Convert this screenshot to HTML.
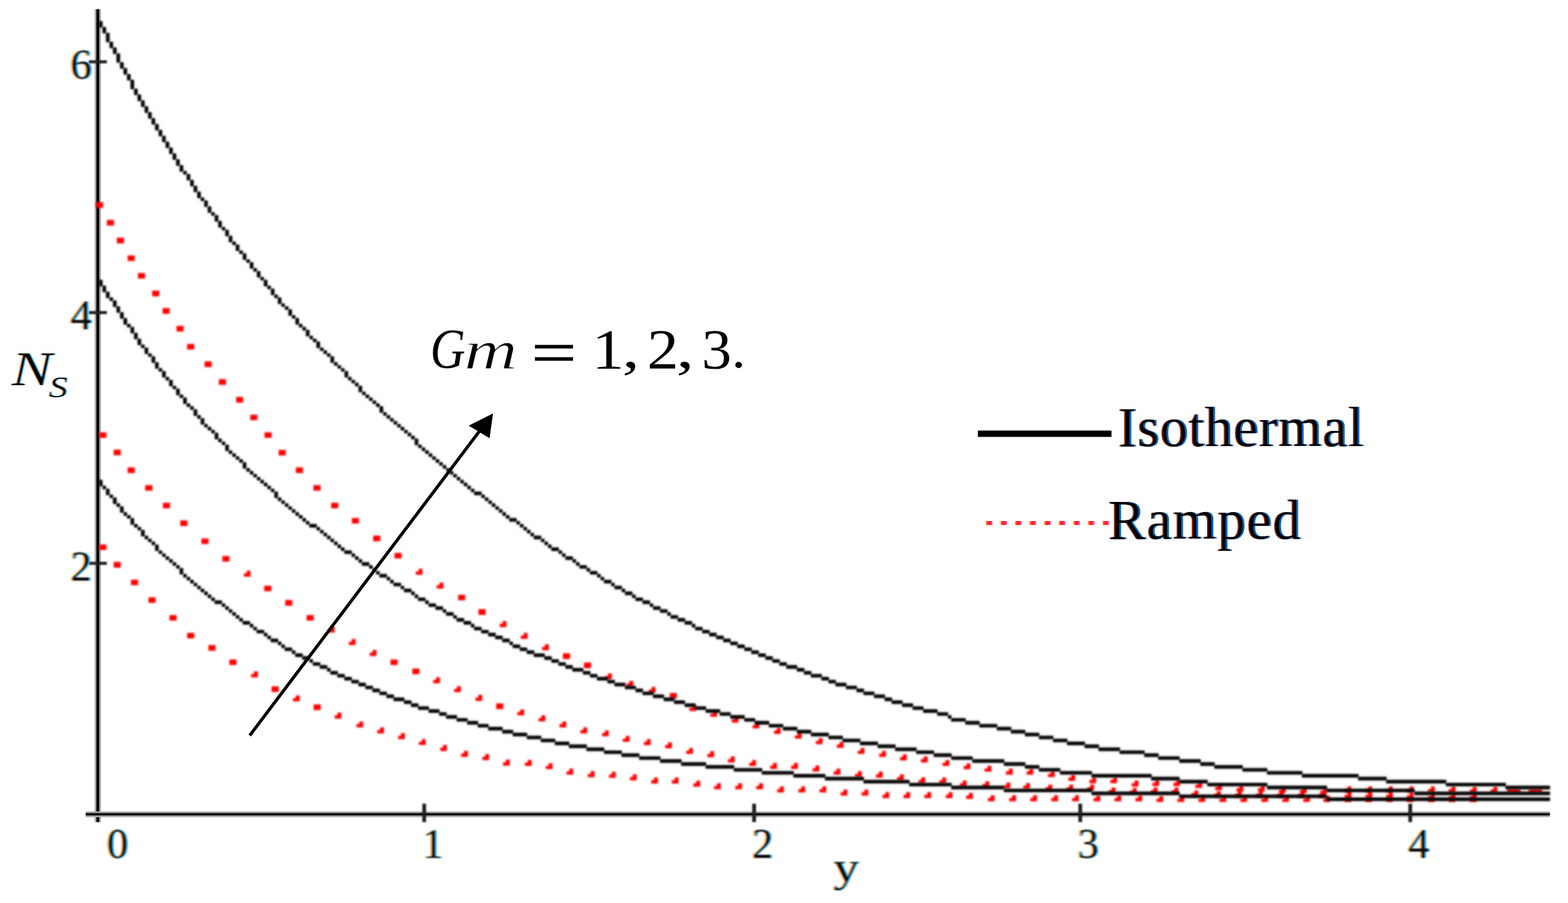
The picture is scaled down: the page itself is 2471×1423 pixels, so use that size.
<!DOCTYPE html>
<html lang="en">
<head>
<meta charset="utf-8">
<title>Entropy generation Ns versus y for Gm = 1, 2, 3</title>
<style>
html,body{margin:0;padding:0;background:#fff;}
body{width:2471px;height:1423px;overflow:hidden;}
svg{display:block;}
text{font-family:"Liberation Serif","DejaVu Serif",serif;fill:#000;}
.tick{font-size:66.7px;}
.leg{font-size:88px;}
.it{font-style:italic;}
</style>
</head>
<body>
<svg width="2471" height="1423" viewBox="0 0 2471 1423" role="img" aria-label="Entropy generation number Ns versus y for Gm = 1, 2, 3 with isothermal (solid) and ramped (dotted) wall temperature">
<defs>
<filter id="soft" x="0" y="0" width="2471" height="1423" filterUnits="userSpaceOnUse"><feGaussianBlur stdDeviation="1.4"/></filter>
<filter id="soft2" x="0" y="0" width="2471" height="1423" filterUnits="userSpaceOnUse"><feGaussianBlur stdDeviation="0.9"/></filter>
<filter id="ct" x="0" y="0" width="2471" height="1423" filterUnits="userSpaceOnUse" color-interpolation-filters="sRGB">
<feMorphology in="SourceAlpha" operator="erode" radius="0.8 0.3" result="core"/>
<feOffset in="SourceAlpha" dx="-1.8" result="l"/>
<feFlood flood-color="#f2a245"/><feComposite in2="l" operator="in" result="lo"/>
<feOffset in="SourceAlpha" dx="1.8" result="r"/>
<feFlood flood-color="#23a0ee"/><feComposite in2="r" operator="in" result="rb"/>
<feFlood flood-color="#0a0a0a"/><feComposite in2="core" operator="in" result="k"/>
<feMerge><feMergeNode in="lo"/><feMergeNode in="rb"/><feMergeNode in="k"/></feMerge>
<feGaussianBlur stdDeviation="1.0"/>
</filter>
<filter id="ct2" x="0" y="500" width="200" height="200" filterUnits="userSpaceOnUse" color-interpolation-filters="sRGB">
<feMorphology in="SourceAlpha" operator="erode" radius="0.6 0.4" result="core"/>
<feOffset in="SourceAlpha" dx="-0.9" result="l"/>
<feFlood flood-color="#e8a055"/><feComposite in2="l" operator="in" result="lo"/>
<feOffset in="SourceAlpha" dx="0.9" result="r"/>
<feFlood flood-color="#3a9fe0"/><feComposite in2="r" operator="in" result="rb"/>
<feFlood flood-color="#000"/><feComposite in2="core" operator="in" result="k"/>
<feMerge><feMergeNode in="lo"/><feMergeNode in="rb"/><feMergeNode in="k"/></feMerge>
<feGaussianBlur stdDeviation="0.5"/>
</filter>
<filter id="line" x="0" y="0" width="2471" height="1423" filterUnits="userSpaceOnUse">
<feGaussianBlur in="SourceGraphic" stdDeviation="1.9" result="h"/>
<feComponentTransfer in="h" result="h2"><feFuncA type="linear" slope="0.55"/></feComponentTransfer>
<feGaussianBlur in="SourceGraphic" stdDeviation="0.9" result="c"/>
<feMerge><feMergeNode in="h2"/><feMergeNode in="c"/></feMerge>
</filter>
<filter id="ct3" x="1700" y="600" width="520" height="300" filterUnits="userSpaceOnUse" color-interpolation-filters="sRGB">
<feMorphology in="SourceAlpha" operator="erode" radius="1 0.3" result="core"/>
<feOffset in="SourceAlpha" dx="-1.5" result="l"/>
<feFlood flood-color="#8a2a08"/><feComposite in2="l" operator="in" result="lo"/>
<feOffset in="SourceAlpha" dx="1.5" result="r"/>
<feFlood flood-color="#0a62c4"/><feComposite in2="r" operator="in" result="rb"/>
<feFlood flood-color="#000"/><feComposite in2="core" operator="in" result="k"/>
<feMerge><feMergeNode in="lo"/><feMergeNode in="rb"/><feMergeNode in="k"/></feMerge>
<feGaussianBlur stdDeviation="0.45"/>
</filter>
<linearGradient id="lgd" x1="0" y1="0" x2="1" y2="0">
<stop offset="0" stop-color="#fffbe0"/><stop offset="0.2" stop-color="#fff3c4"/><stop offset="0.24" stop-color="#ff6a45"/><stop offset="0.5" stop-color="#ff2a1c"/><stop offset="0.62" stop-color="#ff1216"/><stop offset="0.8" stop-color="#ff2f7a"/><stop offset="1" stop-color="#ff45a8"/>
</linearGradient>
</defs>
<rect width="2471" height="1423" fill="#fff"/>

<!-- axes -->
<g id="axes">
<rect x="149.2" y="14.5" width="9.8" height="1281" fill="#a6a6a6"/>
<rect x="151.9" y="14.5" width="4.4" height="1281" fill="#000"/>
<rect x="135" y="1278.7" width="2307.4" height="9.1" fill="#a6a6a6"/>
<rect x="135" y="1281.4" width="2307.4" height="3.6" fill="#000"/>
</g>

<!-- plot curves -->
<g id="ramped-curves" fill="#ff0000" filter="url(#soft)">
<path id="ramped-gm3" d="M151.4 318.6h11.2v8.8h-11.2zM168.4 346.6h11.2v8.8h-11.2zM184.1 374.6h11.2v8.8h-11.2zM201.1 402.4h11.2v8.8h-11.2zM217.4 430.2h11.2v8.8h-11.2zM239.8 458.1h11.2v8.8h-11.2zM256.2 485.6h11.2v8.8h-11.2zM278.2 513.6h11.2v8.8h-11.2zM294.9 542.0h11.2v8.8h-11.2zM322.4 569.6h11.2v8.8h-11.2zM344.8 597.6h11.2v8.8h-11.2zM372.1 625.6h11.2v8.8h-11.2zM394.4 653.4h11.2v8.8h-11.2zM416.9 681.2h11.2v8.8h-11.2zM439.1 709.0h11.2v8.8h-11.2zM466.2 736.6h11.2v8.8h-11.2zM494.0 764.4h11.2v8.8h-11.2zM521.9 792.2h11.2v8.8h-11.2zM554.4 816.3h11.2v8.8h-11.2zM588.1 844.1h11.2v8.8h-11.2zM621.7 871.3h11.2v8.8h-11.2zM659.7 896.3h6.1v9.4h-10.6v-5.2h4.5zM692.6 918.1h6.1v9.4h-10.6v-5.2h4.5zM721.9 937.3h11.2v8.8h-11.2zM754.0 960.1h11.2v8.8h-11.2zM792.0 978.8h6.1v9.4h-10.6v-5.2h4.5zM825.2 997.3h6.1v9.4h-10.6v-5.2h4.5zM858.8 1015.3h6.1v9.4h-10.6v-5.2h4.5zM887.1 1029.6h11.2v8.8h-11.2zM920.3 1044.1h11.2v8.8h-11.2zM958.1 1061.3h6.1v9.4h-10.6v-5.2h4.5zM991.8 1072.9h6.1v9.4h-10.6v-5.2h4.5zM1026.8 1082.6h6.1v9.4h-10.6v-5.2h4.5zM1055.6 1092.0h11.2v8.8h-11.2zM1090.9 1111.1h6.1v9.4h-10.6v-5.2h4.5zM1123.9 1120.2h6.1v9.4h-10.6v-5.2h4.5zM1157.6 1129.3h6.1v9.4h-10.6v-5.2h4.5zM1190.6 1138.3h6.1v9.4h-10.6v-5.2h4.5zM1224.2 1147.1h6.1v9.4h-10.6v-5.2h4.5zM1257.2 1154.7h6.1v9.4h-10.6v-5.2h4.5zM1290.2 1163.3h6.1v9.4h-10.6v-5.2h4.5zM1323.2 1169.1h6.1v9.4h-10.6v-5.2h4.5zM1356.2 1178.7h6.1v9.4h-10.6v-5.2h4.5zM1390.0 1183.3h6.1v9.4h-10.6v-5.2h4.5zM1422.8 1188.8h6.1v9.4h-10.6v-5.2h4.5zM1455.7 1192.1h6.1v9.4h-10.6v-5.2h4.5zM1489.9 1197.7h6.1v9.4h-10.6v-5.2h4.5zM1523.2 1202.9h6.1v9.4h-10.6v-5.2h4.5zM1556.2 1206.7h6.1v9.4h-10.6v-5.2h4.5zM1589.8 1211.3h6.1v9.4h-10.6v-5.2h4.5zM1622.2 1211.3h6.1v9.4h-10.6v-5.2h4.5zM1655.9 1215.2h6.1v9.4h-10.6v-5.2h4.5zM1688.2 1221.0h6.1v9.4h-10.6v-5.2h4.5zM1721.2 1224.9h6.1v9.4h-10.6v-5.2h4.5zM1754.2 1224.9h6.1v9.4h-10.6v-5.2h4.5zM1788.0 1230.0h6.1v9.4h-10.6v-5.2h4.5zM1820.6 1229.3h6.1v9.4h-10.6v-5.2h4.5zM1853.6 1229.3h6.1v9.4h-10.6v-5.2h4.5zM1888.2 1232.3h6.1v9.4h-10.6v-5.2h4.5zM1919.6 1235.9h6.1v9.4h-10.6v-5.2h4.5zM1953.2 1237.8h6.1v9.4h-10.6v-5.2h4.5zM1987.0 1237.8h6.1v9.4h-10.6v-5.2h4.5zM2020.0 1240.3h6.1v9.4h-10.6v-5.2h4.5zM2053.0 1240.3h6.1v9.4h-10.6v-5.2h4.5zM2085.2 1241.7h6.1v9.4h-10.6v-5.2h4.5zM2123.5 1239.3h6.1v9.4h-10.6v-5.2h4.5zM2156.2 1239.3h6.1v9.4h-10.6v-5.2h4.5zM2188.8 1239.3h6.1v9.4h-10.6v-5.2h4.5zM2221.5 1239.3h6.1v9.4h-10.6v-5.2h4.5zM2254.9 1239.3h6.1v9.4h-10.6v-5.2h4.5zM2287.5 1239.3h6.1v9.4h-10.6v-5.2h4.5zM2320.9 1239.8h6.1v9.4h-10.6v-5.2h4.5zM2353.6 1239.8h6.1v9.4h-10.6v-5.2h4.5zM2375.1 1243.2h21v5.7h-21zM2409.2 1243.2h21v5.7h-21z"/>
<path id="ramped-gm2" d="M156.4 681.2h11.2v8.8h-11.2zM179.1 708.6h11.2v8.8h-11.2zM201.1 736.6h11.2v8.8h-11.2zM228.9 764.4h11.2v8.8h-11.2zM256.7 792.2h11.2v8.8h-11.2zM284.1 820.1h11.2v8.8h-11.2zM317.4 848.4h11.2v8.8h-11.2zM350.4 876.2h11.2v8.8h-11.2zM388.8 899.3h6.1v9.4h-10.6v-5.2h4.5zM416.4 923.0h11.2v8.8h-11.2zM449.4 945.6h11.2v8.8h-11.2zM483.1 969.3h11.2v8.8h-11.2zM521.2 987.3h6.1v9.4h-10.6v-5.2h4.5zM554.2 1007.0h6.1v9.4h-10.6v-5.2h4.5zM587.2 1024.3h6.1v9.4h-10.6v-5.2h4.5zM615.4 1039.3h11.2v8.8h-11.2zM649.8 1053.6h11.2v8.8h-11.2zM687.2 1067.3h6.1v9.4h-10.6v-5.2h4.5zM720.2 1081.3h6.1v9.4h-10.6v-5.2h4.5zM753.8 1095.1h6.1v9.4h-10.6v-5.2h4.5zM781.9 1108.6h11.2v8.8h-11.2zM819.8 1117.9h6.1v9.4h-10.6v-5.2h4.5zM853.2 1127.3h6.1v9.4h-10.6v-5.2h4.5zM886.2 1136.9h6.1v9.4h-10.6v-5.2h4.5zM919.2 1146.3h6.1v9.4h-10.6v-5.2h4.5zM953.2 1150.9h6.1v9.4h-10.6v-5.2h4.5zM986.0 1159.7h6.1v9.4h-10.6v-5.2h4.5zM1019.2 1164.8h6.1v9.4h-10.6v-5.2h4.5zM1052.7 1169.8h6.1v9.4h-10.6v-5.2h4.5zM1085.9 1178.7h6.1v9.4h-10.6v-5.2h4.5zM1119.2 1183.8h6.1v9.4h-10.6v-5.2h4.5zM1151.7 1192.1h6.1v9.4h-10.6v-5.2h4.5zM1185.2 1197.7h6.1v9.4h-10.6v-5.2h4.5zM1218.2 1202.3h6.1v9.4h-10.6v-5.2h4.5zM1251.2 1202.3h6.1v9.4h-10.6v-5.2h4.5zM1285.0 1206.3h6.1v9.4h-10.6v-5.2h4.5zM1318.2 1211.3h6.1v9.4h-10.6v-5.2h4.5zM1352.0 1215.3h6.1v9.4h-10.6v-5.2h4.5zM1384.9 1216.1h6.1v9.4h-10.6v-5.2h4.5zM1418.2 1220.3h6.1v9.4h-10.6v-5.2h4.5zM1451.9 1225.0h6.1v9.4h-10.6v-5.2h4.5zM1484.8 1225.3h6.1v9.4h-10.6v-5.2h4.5zM1517.2 1230.0h6.1v9.4h-10.6v-5.2h4.5zM1552.9 1231.3h6.1v9.4h-10.6v-5.2h4.5zM1586.0 1233.3h6.1v9.4h-10.6v-5.2h4.5zM1617.0 1233.9h6.1v9.4h-10.6v-5.2h4.5zM1652.0 1236.5h6.1v9.4h-10.6v-5.2h4.5zM1685.0 1236.5h6.1v9.4h-10.6v-5.2h4.5zM1718.0 1236.5h6.1v9.4h-10.6v-5.2h4.5zM1751.7 1241.1h6.1v9.4h-10.6v-5.2h4.5zM1785.2 1241.7h6.1v9.4h-10.6v-5.2h4.5zM1818.0 1241.1h6.1v9.4h-10.6v-5.2h4.5zM1851.0 1241.1h6.1v9.4h-10.6v-5.2h4.5zM1882.2 1245.6h6.1v9.4h-10.6v-5.2h4.5zM1917.7 1246.9h6.1v9.4h-10.6v-5.2h4.5zM1950.7 1246.9h6.1v9.4h-10.6v-5.2h4.5zM1983.7 1246.9h6.1v9.4h-10.6v-5.2h4.5zM2016.7 1247.3h6.1v9.4h-10.6v-5.2h4.5zM2049.7 1247.3h6.1v9.4h-10.6v-5.2h4.5zM2082.7 1247.3h6.1v9.4h-10.6v-5.2h4.5zM2123.5 1248.3h6.1v9.4h-10.6v-5.2h4.5zM2156.2 1248.3h6.1v9.4h-10.6v-5.2h4.5zM2188.8 1248.3h6.1v9.4h-10.6v-5.2h4.5zM2221.5 1249.3h6.1v9.4h-10.6v-5.2h4.5zM2254.9 1250.3h6.1v9.4h-10.6v-5.2h4.5zM2287.5 1250.3h6.1v9.4h-10.6v-5.2h4.5zM2320.9 1250.3h6.1v9.4h-10.6v-5.2h4.5z"/>
<path id="ramped-gm1" d="M156.4 858.0h11.2v8.8h-11.2zM179.1 885.6h11.2v8.8h-11.2zM206.4 913.4h11.2v8.8h-11.2zM234.0 941.2h11.2v8.8h-11.2zM267.1 969.3h11.2v8.8h-11.2zM294.9 997.2h11.2v8.8h-11.2zM328.4 1016.6h11.2v8.8h-11.2zM361.4 1039.3h11.2v8.8h-11.2zM400.2 1058.0h6.1v9.4h-10.6v-5.2h4.5zM428.0 1081.6h11.2v8.8h-11.2zM466.2 1095.9h6.1v9.4h-10.6v-5.2h4.5zM494.2 1110.1h11.2v8.8h-11.2zM531.9 1123.0h6.1v9.4h-10.6v-5.2h4.5zM566.2 1136.9h6.1v9.4h-10.6v-5.2h4.5zM599.0 1146.3h6.1v9.4h-10.6v-5.2h4.5zM631.9 1155.3h6.1v9.4h-10.6v-5.2h4.5zM664.7 1164.7h6.1v9.4h-10.6v-5.2h4.5zM698.2 1174.1h6.1v9.4h-10.6v-5.2h4.5zM731.2 1183.3h6.1v9.4h-10.6v-5.2h4.5zM764.7 1188.3h6.1v9.4h-10.6v-5.2h4.5zM797.2 1197.1h6.1v9.4h-10.6v-5.2h4.5zM831.7 1197.6h6.1v9.4h-10.6v-5.2h4.5zM864.6 1202.7h6.1v9.4h-10.6v-5.2h4.5zM897.2 1211.3h6.1v9.4h-10.6v-5.2h4.5zM930.8 1215.3h6.1v9.4h-10.6v-5.2h4.5zM964.2 1216.3h6.1v9.4h-10.6v-5.2h4.5zM997.2 1220.3h6.1v9.4h-10.6v-5.2h4.5zM1030.7 1225.3h6.1v9.4h-10.6v-5.2h4.5zM1063.2 1225.3h6.1v9.4h-10.6v-5.2h4.5zM1097.2 1230.3h6.1v9.4h-10.6v-5.2h4.5zM1129.9 1234.3h6.1v9.4h-10.6v-5.2h4.5zM1163.2 1234.3h6.1v9.4h-10.6v-5.2h4.5zM1196.2 1234.3h6.1v9.4h-10.6v-5.2h4.5zM1229.2 1239.3h6.1v9.4h-10.6v-5.2h4.5zM1262.7 1239.3h6.1v9.4h-10.6v-5.2h4.5zM1295.9 1239.3h6.1v9.4h-10.6v-5.2h4.5zM1329.2 1244.3h6.1v9.4h-10.6v-5.2h4.5zM1362.2 1244.3h6.1v9.4h-10.6v-5.2h4.5zM1395.2 1248.3h6.1v9.4h-10.6v-5.2h4.5zM1428.2 1248.3h6.1v9.4h-10.6v-5.2h4.5zM1461.2 1248.3h6.1v9.4h-10.6v-5.2h4.5zM1494.9 1248.3h6.1v9.4h-10.6v-5.2h4.5zM1527.0 1249.5h6.1v9.4h-10.6v-5.2h4.5zM1561.2 1253.3h6.1v9.4h-10.6v-5.2h4.5zM1595.0 1253.3h6.1v9.4h-10.6v-5.2h4.5zM1628.1 1253.3h6.1v9.4h-10.6v-5.2h4.5zM1661.1 1253.3h6.1v9.4h-10.6v-5.2h4.5zM1694.1 1253.3h6.1v9.4h-10.6v-5.2h4.5zM1727.8 1253.3h6.1v9.4h-10.6v-5.2h4.5zM1760.8 1253.3h6.1v9.4h-10.6v-5.2h4.5zM1793.8 1253.3h6.1v9.4h-10.6v-5.2h4.5zM1827.0 1254.3h6.1v9.4h-10.6v-5.2h4.5zM1860.1 1254.3h6.1v9.4h-10.6v-5.2h4.5zM1893.1 1254.3h6.1v9.4h-10.6v-5.2h4.5zM1926.1 1254.3h6.1v9.4h-10.6v-5.2h4.5zM1959.2 1254.3h6.1v9.4h-10.6v-5.2h4.5zM1992.2 1254.3h6.1v9.4h-10.6v-5.2h4.5zM2025.2 1254.3h6.1v9.4h-10.6v-5.2h4.5zM2058.2 1254.3h6.1v9.4h-10.6v-5.2h4.5zM2089.9 1254.3h6.1v9.4h-10.6v-5.2h4.5zM2123.5 1254.3h6.1v9.4h-10.6v-5.2h4.5zM2156.2 1254.3h6.1v9.4h-10.6v-5.2h4.5zM2188.8 1254.3h6.1v9.4h-10.6v-5.2h4.5zM2221.5 1254.3h6.1v9.4h-10.6v-5.2h4.5zM2254.9 1254.3h6.1v9.4h-10.6v-5.2h4.5zM2287.5 1254.3h6.1v9.4h-10.6v-5.2h4.5zM2320.9 1254.3h6.1v9.4h-10.6v-5.2h4.5z"/>
</g>
<g id="isothermal-curves" fill="#0a0a0a" filter="url(#line)">
<path id="isothermal-gm3" d="M156.3 33.4h5.0v9.6h-5.0zM161.8 42.7h5.0v9.6h-5.0zM167.3 52.0h5.0v14.2h-5.0zM172.9 65.9h5.0v9.6h-5.0zM178.4 75.1h5.0v9.6h-5.0zM183.9 84.4h5.0v14.2h-5.0zM189.5 98.3h5.0v9.6h-5.0zM195.0 107.6h5.0v9.6h-5.0zM200.5 116.9h5.0v9.6h-5.0zM206.0 126.1h5.0v14.2h-5.0zM211.6 140.0h5.0v9.6h-5.0zM217.1 149.3h5.0v9.6h-5.0zM222.6 158.6h5.0v9.6h-5.0zM228.2 167.8h5.0v9.6h-5.0zM233.7 177.1h5.0v9.6h-5.0zM239.2 186.4h5.0v9.6h-5.0zM244.7 195.7h5.0v9.6h-5.0zM250.3 204.9h5.0v9.6h-5.0zM255.8 214.2h5.0v9.6h-5.0zM261.3 223.5h5.0v9.6h-5.0zM266.9 232.7h5.0v9.6h-5.0zM272.4 242.0h5.0v9.6h-5.0zM277.9 251.3h5.0v9.6h-5.0zM283.4 260.6h5.0v9.6h-5.0zM289.0 269.8h5.0v4.9h-5.0zM294.5 274.5h5.0v9.6h-5.0zM300.0 283.7h5.0v9.6h-5.0zM305.5 293.0h5.0v9.6h-5.0zM311.1 302.3h5.0v9.6h-5.0zM316.6 311.5h5.0v4.9h-5.0zM322.1 316.2h5.0v9.6h-5.0zM327.7 325.4h5.0v9.6h-5.0zM333.2 334.7h5.0v4.9h-5.0zM338.7 339.3h5.0v9.6h-5.0zM344.2 348.6h5.0v9.6h-5.0zM349.8 357.9h5.0v4.9h-5.0zM355.3 362.5h5.0v9.6h-5.0zM360.8 371.8h5.0v9.6h-5.0zM366.4 381.1h5.0v4.9h-5.0zM371.9 385.7h5.0v9.6h-5.0zM377.4 395.0h5.0v4.9h-5.0zM382.9 399.6h5.0v9.6h-5.0zM388.5 408.9h5.0v4.9h-5.0zM394.0 413.5h5.0v9.6h-5.0zM399.5 422.8h5.0v4.9h-5.0zM405.1 427.4h5.0v9.6h-5.0zM410.6 436.7h5.0v4.9h-5.0zM416.1 441.3h5.0v9.6h-5.0zM421.6 450.6h5.0v4.9h-5.0zM427.2 455.2h5.0v9.6h-5.0zM432.7 464.5h5.0v4.9h-5.0zM438.2 469.1h5.0v9.6h-5.0zM443.7 478.4h5.0v4.9h-5.0zM449.3 483.0h5.0v4.9h-5.0zM454.8 487.7h5.0v9.6h-5.0zM460.3 496.9h5.0v4.9h-5.0zM465.9 501.6h5.0v9.6h-5.0zM471.4 510.8h5.0v4.9h-5.0zM476.9 515.5h5.0v4.9h-5.0zM482.4 520.1h5.0v9.6h-5.0zM488.0 529.4h5.0v4.9h-5.0zM493.5 534.0h5.0v4.9h-5.0zM499.0 538.6h5.0v9.6h-5.0zM504.6 547.9h5.0v4.9h-5.0zM510.1 552.6h5.0v4.9h-5.0zM515.6 557.2h5.0v4.9h-5.0zM521.1 561.8h5.0v9.6h-5.0zM526.7 571.1h5.0v4.9h-5.0zM532.2 575.7h5.0v4.9h-5.0zM537.7 580.4h5.0v4.9h-5.0zM543.3 585.0h5.0v9.6h-5.0zM548.8 594.3h5.0v4.9h-5.0zM554.3 598.9h5.0v4.9h-5.0zM559.8 603.5h5.0v4.9h-5.0zM565.4 608.2h5.0v9.6h-5.0zM570.9 617.4h5.0v4.9h-5.0zM576.4 622.1h5.0v4.9h-5.0zM581.9 626.7h5.0v4.9h-5.0zM587.5 631.4h5.0v4.9h-5.0zM593.0 636.0h5.0v4.9h-5.0zM598.5 640.6h5.0v9.6h-5.0zM604.1 649.9h5.0v4.9h-5.0zM609.6 654.5h5.0v4.9h-5.0zM615.1 659.2h5.0v4.9h-5.0zM620.6 663.8h5.0v4.9h-5.0zM626.2 668.4h5.0v4.9h-5.0zM631.7 673.1h5.0v4.9h-5.0zM637.2 677.7h5.0v4.9h-5.0zM642.8 682.3h5.0v4.9h-5.0zM648.3 687.0h5.0v4.9h-5.0zM653.8 691.6h5.0v9.6h-5.0zM659.3 700.9h5.0v4.9h-5.0zM664.9 705.5h5.0v4.9h-5.0zM670.4 710.1h5.0v4.9h-5.0zM675.9 714.8h5.0v4.9h-5.0zM681.5 719.4h5.0v4.9h-5.0zM687.0 724.0h5.0v4.9h-5.0zM692.5 728.7h5.0v4.9h-5.0zM698.0 733.3h5.0v4.9h-5.0zM703.6 738.0h5.0v4.9h-5.0zM709.1 742.6h5.0v4.9h-5.0zM714.6 747.2h5.0v4.9h-5.0zM720.1 751.9h5.0v4.9h-5.0zM725.7 756.5h5.0v4.9h-5.0zM731.2 761.1h5.0v4.9h-5.0zM736.7 765.8h5.0v4.9h-5.0zM742.3 770.4h5.0v4.9h-5.0zM747.4 775.0h11.3v4.9h-11.3zM758.8 779.7h5.0v4.9h-5.0zM764.4 784.3h5.0v4.9h-5.0zM769.9 788.9h5.0v4.9h-5.0zM775.4 793.6h5.0v4.9h-5.0zM781.0 798.2h5.0v4.9h-5.0zM786.5 802.8h5.0v4.9h-5.0zM792.0 807.5h5.0v4.9h-5.0zM797.5 812.1h5.0v4.9h-5.0zM802.7 816.8h11.3v4.9h-11.3zM814.1 821.4h5.0v4.9h-5.0zM819.7 826.0h5.0v4.9h-5.0zM825.2 830.7h5.0v4.9h-5.0zM830.7 835.3h5.0v4.9h-5.0zM836.2 839.9h5.0v4.9h-5.0zM841.4 844.6h11.3v4.9h-11.3zM852.8 849.2h5.0v4.9h-5.0zM858.3 853.8h5.0v4.9h-5.0zM863.9 858.5h5.0v4.9h-5.0zM869.1 863.1h11.3v4.9h-11.3zM880.5 867.7h5.0v4.9h-5.0zM886.0 872.4h5.0v4.9h-5.0zM891.2 877.0h11.3v4.9h-11.3zM902.6 881.6h5.0v4.9h-5.0zM908.1 886.3h5.0v4.9h-5.0zM913.3 890.9h11.3v4.9h-11.3zM924.7 895.5h5.0v4.9h-5.0zM929.9 900.2h11.3v4.9h-11.3zM941.3 904.8h5.0v4.9h-5.0zM946.8 909.4h5.0v4.9h-5.0zM952.0 914.1h11.3v4.9h-11.3zM963.4 918.7h5.0v4.9h-5.0zM968.6 923.4h11.3v4.9h-11.3zM980.0 928.0h5.0v4.9h-5.0zM985.1 932.6h11.3v4.9h-11.3zM996.5 937.3h5.0v4.9h-5.0zM1001.7 941.9h11.3v4.9h-11.3zM1012.8 946.5h11.3v4.9h-11.3zM1024.2 951.2h5.0v4.9h-5.0zM1029.4 955.8h11.3v4.9h-11.3zM1040.4 960.4h11.3v4.9h-11.3zM1051.8 965.1h5.0v4.9h-5.0zM1057.0 969.7h11.3v4.9h-11.3zM1068.1 974.3h11.3v4.9h-11.3zM1079.1 979.0h11.3v4.9h-11.3zM1090.5 983.6h5.0v4.9h-5.0zM1095.7 988.2h11.3v4.9h-11.3zM1106.8 992.9h11.3v4.9h-11.3zM1117.8 997.5h11.3v4.9h-11.3zM1128.9 1002.1h11.3v4.9h-11.3zM1139.9 1006.8h11.3v4.9h-11.3zM1151.0 1011.4h11.3v4.9h-11.3zM1162.0 1016.1h11.3v4.9h-11.3zM1173.1 1020.7h11.3v4.9h-11.3zM1184.2 1025.3h11.3v4.9h-11.3zM1195.2 1030.0h11.3v4.9h-11.3zM1206.3 1034.6h11.3v4.9h-11.3zM1217.3 1039.2h11.3v4.9h-11.3zM1228.4 1043.9h11.3v4.9h-11.3zM1239.4 1048.5h16.8v4.9h-16.8zM1256.0 1053.1h11.3v4.9h-11.3zM1267.1 1057.8h11.3v4.9h-11.3zM1278.1 1062.4h16.8v4.9h-16.8zM1294.7 1067.0h11.3v4.9h-11.3zM1305.8 1071.7h11.3v4.9h-11.3zM1316.8 1076.3h16.8v4.9h-16.8zM1333.4 1080.9h16.8v4.9h-16.8zM1350.0 1085.6h11.3v4.9h-11.3zM1361.0 1090.2h16.8v4.9h-16.8zM1377.6 1094.8h16.8v4.9h-16.8zM1394.2 1099.5h11.3v4.9h-11.3zM1405.3 1104.1h16.8v4.9h-16.8zM1421.9 1108.8h16.8v4.9h-16.8zM1438.4 1113.4h16.8v4.9h-16.8zM1455.0 1118.0h22.3v4.9h-22.3zM1477.1 1122.7h16.8v4.9h-16.8zM1494.1 1127.3h5.0v4.9h-5.0zM1499.2 1131.9h22.3v4.9h-22.3zM1521.4 1136.6h22.3v4.9h-22.3zM1543.5 1141.2h27.8v4.9h-27.8zM1571.1 1145.8h22.3v4.9h-22.3zM1593.2 1150.5h22.3v4.9h-22.3zM1615.3 1155.1h22.3v4.9h-22.3zM1637.4 1159.7h22.3v4.9h-22.3zM1659.6 1164.4h22.3v4.9h-22.3zM1681.7 1169.0h27.8v4.9h-27.8zM1709.3 1173.6h22.3v4.9h-22.3zM1731.4 1178.3h33.4v4.9h-33.4zM1764.6 1182.9h38.9v4.9h-38.9zM1803.3 1187.5h22.3v4.9h-22.3zM1825.4 1192.2h33.4v4.9h-33.4zM1858.6 1196.8h33.4v4.9h-33.4zM1891.7 1201.5h22.3v4.9h-22.3zM1913.8 1206.1h44.4v4.9h-44.4zM1958.1 1210.7h38.9v4.9h-38.9zM1996.8 1215.4h55.5v4.9h-55.5zM2052.0 1220.0h88.6v4.9h-88.6zM2140.5 1224.6h44.4v4.9h-44.4zM2184.7 1229.3h94.2v4.9h-94.2zM2278.7 1233.9h94.2v4.9h-94.2zM2372.7 1238.5h69.7v4.9h-69.7z"/>
<path id="isothermal-gm2" d="M156.3 441.3h5.0v9.6h-5.0zM161.8 450.6h5.0v9.6h-5.0zM167.3 459.9h5.0v9.6h-5.0zM172.9 469.1h5.0v4.9h-5.0zM178.4 473.8h5.0v9.6h-5.0zM183.9 483.0h5.0v9.6h-5.0zM189.5 492.3h5.0v9.6h-5.0zM195.0 501.6h5.0v9.6h-5.0zM200.5 510.8h5.0v4.9h-5.0zM206.0 515.5h5.0v9.6h-5.0zM211.6 524.7h5.0v9.6h-5.0zM217.1 534.0h5.0v9.6h-5.0zM222.6 543.3h5.0v4.9h-5.0zM228.2 547.9h5.0v9.6h-5.0zM233.7 557.2h5.0v4.9h-5.0zM239.2 561.8h5.0v9.6h-5.0zM244.7 571.1h5.0v9.6h-5.0zM250.3 580.4h5.0v4.9h-5.0zM255.8 585.0h5.0v9.6h-5.0zM261.3 594.3h5.0v4.9h-5.0zM266.9 598.9h5.0v9.6h-5.0zM272.4 608.2h5.0v4.9h-5.0zM277.9 612.8h5.0v9.6h-5.0zM283.4 622.1h5.0v4.9h-5.0zM289.0 626.7h5.0v9.6h-5.0zM294.5 636.0h5.0v4.9h-5.0zM300.0 640.6h5.0v4.9h-5.0zM305.5 645.3h5.0v9.6h-5.0zM311.1 654.5h5.0v4.9h-5.0zM316.6 659.2h5.0v9.6h-5.0zM322.1 668.4h5.0v4.9h-5.0zM327.7 673.1h5.0v4.9h-5.0zM333.2 677.7h5.0v4.9h-5.0zM338.7 682.3h5.0v9.6h-5.0zM344.2 691.6h5.0v4.9h-5.0zM349.8 696.2h5.0v4.9h-5.0zM355.3 700.9h5.0v9.6h-5.0zM360.8 710.1h5.0v4.9h-5.0zM366.4 714.8h5.0v4.9h-5.0zM371.9 719.4h5.0v4.9h-5.0zM377.4 724.0h5.0v4.9h-5.0zM382.9 728.7h5.0v9.6h-5.0zM388.5 738.0h5.0v4.9h-5.0zM394.0 742.6h5.0v4.9h-5.0zM399.5 747.2h5.0v4.9h-5.0zM405.1 751.9h5.0v4.9h-5.0zM410.6 756.5h5.0v4.9h-5.0zM416.1 761.1h5.0v4.9h-5.0zM421.6 765.8h5.0v4.9h-5.0zM427.2 770.4h5.0v4.9h-5.0zM432.7 775.0h5.0v9.6h-5.0zM438.2 784.3h5.0v4.9h-5.0zM443.7 788.9h5.0v4.9h-5.0zM449.3 793.6h5.0v4.9h-5.0zM454.8 798.2h5.0v4.9h-5.0zM460.3 802.8h5.0v4.9h-5.0zM465.9 807.5h5.0v4.9h-5.0zM471.4 812.1h5.0v4.9h-5.0zM476.9 816.8h5.0v4.9h-5.0zM482.4 821.4h5.0v4.9h-5.0zM487.6 826.0h11.3v4.9h-11.3zM499.0 830.7h5.0v4.9h-5.0zM504.6 835.3h5.0v4.9h-5.0zM510.1 839.9h5.0v4.9h-5.0zM515.6 844.6h5.0v4.9h-5.0zM521.1 849.2h5.0v4.9h-5.0zM526.7 853.8h5.0v4.9h-5.0zM532.2 858.5h5.0v4.9h-5.0zM537.7 863.1h5.0v4.9h-5.0zM542.9 867.7h11.3v4.9h-11.3zM554.3 872.4h5.0v4.9h-5.0zM559.8 877.0h5.0v4.9h-5.0zM565.4 881.6h5.0v4.9h-5.0zM570.5 886.3h11.3v4.9h-11.3zM581.9 890.9h5.0v4.9h-5.0zM587.5 895.5h5.0v4.9h-5.0zM593.0 900.2h5.0v4.9h-5.0zM598.2 904.8h11.3v4.9h-11.3zM609.6 909.4h5.0v4.9h-5.0zM615.1 914.1h5.0v4.9h-5.0zM620.3 918.7h11.3v4.9h-11.3zM631.7 923.4h5.0v4.9h-5.0zM636.9 928.0h11.3v4.9h-11.3zM648.3 932.6h5.0v4.9h-5.0zM653.8 937.3h5.0v4.9h-5.0zM659.0 941.9h11.3v4.9h-11.3zM670.4 946.5h5.0v4.9h-5.0zM675.6 951.2h11.3v4.9h-11.3zM686.6 955.8h11.3v4.9h-11.3zM698.0 960.4h5.0v4.9h-5.0zM703.2 965.1h11.3v4.9h-11.3zM714.6 969.7h5.0v4.9h-5.0zM719.8 974.3h11.3v4.9h-11.3zM730.9 979.0h11.3v4.9h-11.3zM742.3 983.6h5.0v4.9h-5.0zM747.4 988.2h11.3v4.9h-11.3zM758.5 992.9h11.3v4.9h-11.3zM769.6 997.5h11.3v4.9h-11.3zM780.6 1002.1h11.3v4.9h-11.3zM791.7 1006.8h11.3v4.9h-11.3zM803.1 1011.4h5.0v4.9h-5.0zM808.2 1016.1h11.3v4.9h-11.3zM819.3 1020.7h11.3v4.9h-11.3zM830.4 1025.3h11.3v4.9h-11.3zM841.4 1030.0h16.8v4.9h-16.8zM858.0 1034.6h11.3v4.9h-11.3zM869.1 1039.2h11.3v4.9h-11.3zM880.1 1043.9h11.3v4.9h-11.3zM891.2 1048.5h11.3v4.9h-11.3zM902.2 1053.1h16.8v4.9h-16.8zM918.8 1057.8h11.3v4.9h-11.3zM929.9 1062.4h11.3v4.9h-11.3zM940.9 1067.0h16.8v4.9h-16.8zM957.5 1071.7h11.3v4.9h-11.3zM968.6 1076.3h16.8v4.9h-16.8zM985.1 1080.9h16.8v4.9h-16.8zM1001.7 1085.6h11.3v4.9h-11.3zM1012.8 1090.2h16.8v4.9h-16.8zM1029.4 1094.8h16.8v4.9h-16.8zM1046.0 1099.5h16.8v4.9h-16.8zM1062.5 1104.1h16.8v4.9h-16.8zM1079.1 1108.8h16.8v4.9h-16.8zM1095.7 1113.4h16.8v4.9h-16.8zM1112.3 1118.0h22.3v4.9h-22.3zM1134.4 1122.7h16.8v4.9h-16.8zM1151.0 1127.3h22.3v4.9h-22.3zM1173.1 1131.9h16.8v4.9h-16.8zM1189.7 1136.6h22.3v4.9h-22.3zM1211.8 1141.2h22.3v4.9h-22.3zM1233.9 1145.8h22.3v4.9h-22.3zM1256.0 1150.5h22.3v4.9h-22.3zM1278.1 1155.1h27.8v4.9h-27.8zM1305.8 1159.7h22.3v4.9h-22.3zM1327.9 1164.4h27.8v4.9h-27.8zM1355.5 1169.0h27.8v4.9h-27.8zM1383.2 1173.6h27.8v4.9h-27.8zM1410.8 1178.3h33.4v4.9h-33.4zM1444.0 1182.9h27.8v4.9h-27.8zM1471.6 1187.5h27.8v4.9h-27.8zM1499.2 1192.2h33.4v4.9h-33.4zM1532.4 1196.8h50.0v4.9h-50.0zM1582.2 1201.5h33.4v4.9h-33.4zM1615.3 1206.1h22.3v4.9h-22.3zM1637.4 1210.7h33.4v4.9h-33.4zM1670.6 1215.4h50.0v4.9h-50.0zM1720.4 1220.0h94.2v4.9h-94.2zM1814.3 1224.6h44.4v4.9h-44.4zM1858.6 1229.3h44.4v4.9h-44.4zM1902.8 1233.9h94.2v4.9h-94.2zM1996.8 1238.5h94.2v4.9h-94.2zM2090.7 1243.2h138.4v4.9h-138.4zM2228.9 1247.8h213.5v4.9h-213.5z"/>
<path id="isothermal-gm1" d="M156.3 756.5h5.0v9.6h-5.0zM161.8 765.8h5.0v4.9h-5.0zM167.3 770.4h5.0v9.6h-5.0zM172.9 779.7h5.0v4.9h-5.0zM178.4 784.3h5.0v9.6h-5.0zM183.9 793.6h5.0v4.9h-5.0zM189.5 798.2h5.0v9.6h-5.0zM195.0 807.5h5.0v4.9h-5.0zM200.5 812.1h5.0v4.9h-5.0zM206.0 816.8h5.0v9.6h-5.0zM211.6 826.0h5.0v4.9h-5.0zM217.1 830.7h5.0v4.9h-5.0zM222.6 835.3h5.0v9.6h-5.0zM228.2 844.6h5.0v4.9h-5.0zM233.7 849.2h5.0v4.9h-5.0zM239.2 853.8h5.0v4.9h-5.0zM244.7 858.5h5.0v9.6h-5.0zM250.3 867.7h5.0v4.9h-5.0zM255.8 872.4h5.0v4.9h-5.0zM261.3 877.0h5.0v4.9h-5.0zM266.9 881.6h5.0v4.9h-5.0zM272.4 886.3h5.0v4.9h-5.0zM277.9 890.9h5.0v4.9h-5.0zM283.4 895.5h5.0v9.6h-5.0zM289.0 904.8h5.0v4.9h-5.0zM294.5 909.4h5.0v4.9h-5.0zM300.0 914.1h5.0v4.9h-5.0zM305.5 918.7h5.0v4.9h-5.0zM311.1 923.4h5.0v4.9h-5.0zM316.6 928.0h5.0v4.9h-5.0zM322.1 932.6h5.0v4.9h-5.0zM327.7 937.3h5.0v4.9h-5.0zM333.2 941.9h5.0v4.9h-5.0zM338.4 946.5h11.3v4.9h-11.3zM349.8 951.2h5.0v4.9h-5.0zM355.3 955.8h5.0v4.9h-5.0zM360.8 960.4h5.0v4.9h-5.0zM366.4 965.1h5.0v4.9h-5.0zM371.9 969.7h5.0v4.9h-5.0zM377.4 974.3h5.0v4.9h-5.0zM382.6 979.0h11.3v4.9h-11.3zM394.0 983.6h5.0v4.9h-5.0zM399.5 988.2h5.0v4.9h-5.0zM404.7 992.9h11.3v4.9h-11.3zM416.1 997.5h5.0v4.9h-5.0zM421.6 1002.1h5.0v4.9h-5.0zM426.8 1006.8h11.3v4.9h-11.3zM438.2 1011.4h5.0v4.9h-5.0zM443.7 1016.1h5.0v4.9h-5.0zM448.9 1020.7h11.3v4.9h-11.3zM460.3 1025.3h5.0v4.9h-5.0zM465.5 1030.0h11.3v4.9h-11.3zM476.6 1034.6h11.3v4.9h-11.3zM488.0 1039.2h5.0v4.9h-5.0zM493.2 1043.9h11.3v4.9h-11.3zM504.2 1048.5h11.3v4.9h-11.3zM515.6 1053.1h5.0v4.9h-5.0zM520.8 1057.8h11.3v4.9h-11.3zM531.8 1062.4h11.3v4.9h-11.3zM542.9 1067.0h11.3v4.9h-11.3zM554.0 1071.7h11.3v4.9h-11.3zM565.0 1076.3h11.3v4.9h-11.3zM576.1 1080.9h11.3v4.9h-11.3zM587.1 1085.6h11.3v4.9h-11.3zM598.2 1090.2h11.3v4.9h-11.3zM609.2 1094.8h11.3v4.9h-11.3zM620.3 1099.5h16.8v4.9h-16.8zM636.9 1104.1h11.3v4.9h-11.3zM647.9 1108.8h11.3v4.9h-11.3zM659.0 1113.4h16.8v4.9h-16.8zM675.6 1118.0h16.8v4.9h-16.8zM692.2 1122.7h11.3v4.9h-11.3zM703.2 1127.3h16.8v4.9h-16.8zM719.8 1131.9h16.8v4.9h-16.8zM736.4 1136.6h16.8v4.9h-16.8zM753.0 1141.2h16.8v4.9h-16.8zM769.6 1145.8h22.3v4.9h-22.3zM791.7 1150.5h16.8v4.9h-16.8zM808.2 1155.1h22.3v4.9h-22.3zM830.4 1159.7h22.3v4.9h-22.3zM852.5 1164.4h22.3v4.9h-22.3zM874.6 1169.0h22.3v4.9h-22.3zM896.7 1173.6h27.8v4.9h-27.8zM924.3 1178.3h27.8v4.9h-27.8zM952.0 1182.9h27.8v4.9h-27.8zM979.6 1187.5h27.8v4.9h-27.8zM1007.3 1192.2h33.4v4.9h-33.4zM1040.4 1196.8h33.4v4.9h-33.4zM1073.6 1201.5h38.9v4.9h-38.9zM1112.3 1206.1h44.4v4.9h-44.4zM1156.5 1210.7h44.4v4.9h-44.4zM1200.7 1215.4h50.0v4.9h-50.0zM1250.5 1220.0h50.0v4.9h-50.0zM1300.2 1224.6h61.0v4.9h-61.0zM1361.0 1229.3h72.1v4.9h-72.1zM1432.9 1233.9h66.5v4.9h-66.5zM1499.2 1238.5h83.1v4.9h-83.1zM1582.2 1243.2h138.4v4.9h-138.4zM1720.4 1247.8h138.4v4.9h-138.4zM1858.6 1252.4h232.4v4.9h-232.4zM2090.7 1257.1h351.7v4.9h-351.7z"/>
</g>
<g id="ticks" fill="#222" filter="url(#soft2)">
<rect x="140" y="95.0" width="28.4" height="4.8"/>
<rect x="140" y="490.2" width="28.4" height="4.8"/>
<rect x="140" y="885.3" width="28.4" height="4.8"/>
<rect x="665.5" y="1266.5" width="6" height="29"/>
<rect x="1185.4" y="1266.5" width="6" height="29"/>
<rect x="1699.4" y="1266.5" width="6" height="29"/>
<rect x="2219.4" y="1266.5" width="6" height="29"/>
</g>

<!-- tick labels -->
<g class="tick" filter="url(#ct)">
<text x="111" y="124">6</text>
<text x="111" y="518.5">4</text>
<text x="111" y="915">2</text>
<text x="168.5" y="1352">0</text>
<text x="665.5" y="1352">1</text>
<text x="1185" y="1352">2</text>
<text x="1698" y="1352">3</text>
<text x="2219" y="1352">4</text>
<text id="x-title"><tspan x="1313.2" y="1389.2" font-size="65.7" textLength="40.2" lengthAdjust="spacingAndGlyphs">y</tspan></text>
</g>

<!-- axis title Ns -->
<text id="y-title" font-size="75" filter="url(#ct2)"><tspan x="18.3" y="607.3" font-size="75.8" font-style="italic" textLength="63.9" lengthAdjust="spacingAndGlyphs">N</tspan><tspan x="76.6" y="625.5" font-size="45.7" font-style="italic" textLength="30.3" lengthAdjust="spacingAndGlyphs">S</tspan></text>

<!-- annotation -->
<text id="annotation" font-size="88"><tspan x="677.9" y="579.2" font-size="87.9" font-style="italic" textLength="55.2" lengthAdjust="spacingAndGlyphs">G</tspan><tspan x="731.3" y="580.5" font-size="86.5" font-style="italic" textLength="84.3" lengthAdjust="spacingAndGlyphs" stroke="#fff" stroke-width="1.2">m</tspan> <tspan x="837.3" y="587.5" font-size="97.2" textLength="71.4" lengthAdjust="spacingAndGlyphs" stroke="#000" stroke-width="0.9">=</tspan> <tspan x="932.8" y="580.1" font-size="89.9" textLength="51.1" lengthAdjust="spacingAndGlyphs">1</tspan><tspan x="980.6" y="579.4" font-size="84.3" textLength="27.6" lengthAdjust="spacingAndGlyphs">,</tspan> <tspan x="1019.7" y="580.1" font-size="89.2" textLength="49.7" lengthAdjust="spacingAndGlyphs">2</tspan><tspan x="1065.4" y="579.4" font-size="84.3" textLength="28.6" lengthAdjust="spacingAndGlyphs">,</tspan> <tspan x="1105.7" y="579.9" font-size="89.0" textLength="47.1" lengthAdjust="spacingAndGlyphs">3</tspan><tspan x="1152.7" y="578.8" font-size="83.5" textLength="22.5" lengthAdjust="spacingAndGlyphs">.</tspan></text>

<!-- arrow -->
<line x1="393.6" y1="1159" x2="760" y2="673.6" stroke="#000" stroke-width="5"/>
<polygon points="777,651.4 738.6,670.8 771.5,690.6" fill="#000"/>

<!-- legend -->
<rect x="1541" y="678.5" width="210.6" height="10" fill="#000"/>
<text class="leg" x="1762" y="703.4" letter-spacing="1.17" filter="url(#ct3)">Isothermal</text>
<g id="legend-ramped-swatch" fill="url(#lgd)">
<rect x="1551.2" y="821" width="12.6" height="6.4"/><rect x="1574.2" y="821" width="12.6" height="6.4"/><rect x="1597.1" y="821" width="12.6" height="6.4"/><rect x="1620.1" y="821" width="12.6" height="6.4"/><rect x="1643.1" y="821" width="12.6" height="6.4"/><rect x="1666.0" y="821" width="12.6" height="6.4"/><rect x="1689.0" y="821" width="12.6" height="6.4"/><rect x="1712.0" y="821" width="12.6" height="6.4"/><rect x="1735.0" y="821" width="12.6" height="6.4"/>
</g>
<text class="leg" x="1746.5" y="848.7" letter-spacing="2" filter="url(#ct3)">Ramped</text>
</svg>
</body>
</html>
